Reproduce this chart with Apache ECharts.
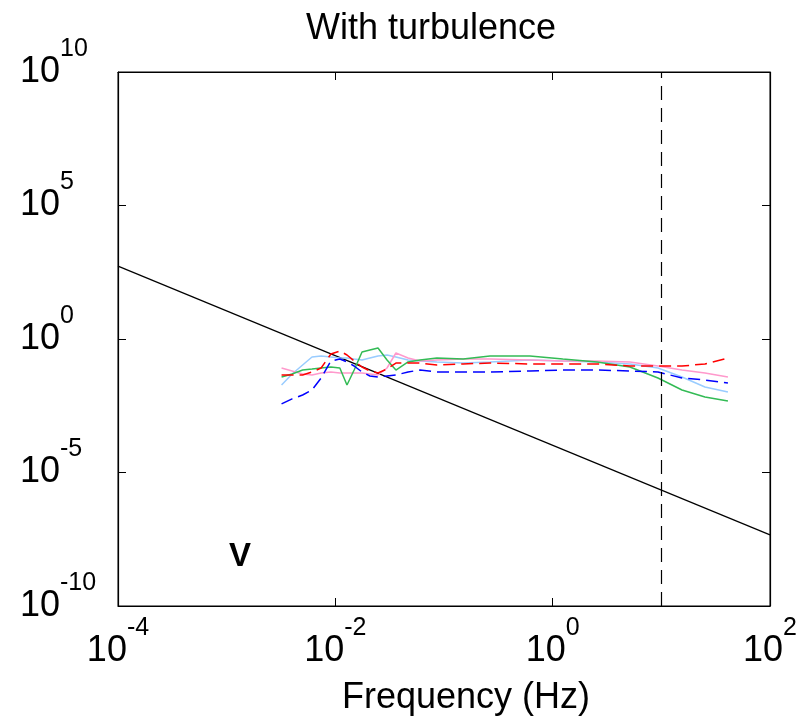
<!DOCTYPE html>
<html>
<head>
<meta charset="utf-8">
<script src="https://cdn.jsdelivr.net/npm/echarts@6/dist/echarts.min.js"></script>
<style>
  html, body { margin: 0; padding: 0; background: #fff; }
  #chart { width: 807px; height: 725px; }
</style>
</head>
<body>
<div id="chart"></div>
<script>
// frequencies (Hz) for the measured spectra
var freq = [0.0032, 0.004, 0.005, 0.0061, 0.0074, 0.0091, 0.011, 0.0128, 0.0149, 0.0176, 0.0208, 0.0247, 0.0299,
            0.0361, 0.0467, 0.0601, 0.0861, 0.15, 0.265, 0.618, 1.24, 2.56, 5.14, 9.31, 15.5, 25.2, 41];
// spectra values
var redVals   = [0.0448, 0.0448, 0.0448, 0.0581, 0.082, 0.274, 0.355, 0.252, 0.15, 0.0894, 0.0633, 0.0533, 0.0752,
                 0.126, 0.126, 0.126, 0.106, 0.116, 0.126, 0.116, 0.116, 0.116, 0.0974, 0.0974, 0.0974, 0.116, 0.194];
var blueVals  = [0.0037, 0.0057, 0.008, 0.0123, 0.0346, 0.15, 0.178, 0.138, 0.0974, 0.0581, 0.0411, 0.0377, 0.0411,
                 0.0448, 0.0581, 0.069, 0.0581, 0.0581, 0.0581, 0.0633, 0.069, 0.069, 0.0633, 0.0581, 0.0346, 0.0291, 0.0225];
var greenVals = [0.0377, 0.0489, 0.069, 0.0752, 0.082, 0.0894, 0.082, 0.0189, 0.069, 0.326, 0.387, 0.46, 0.163,
                 0.069, 0.138, 0.163, 0.194, 0.178, 0.231, 0.231, 0.178, 0.138, 0.0894, 0.0346, 0.0123, 0.0067, 0.0048];
var cyanVals  = [0.0189, 0.0489, 0.106, 0.212, 0.231, 0.212, 0.194, 0.194, 0.178, 0.163, 0.194, 0.231, 0.252,
                 0.212, 0.163, 0.15, 0.138, 0.126, 0.138, 0.163, 0.15, 0.138, 0.116, 0.082, 0.0377, 0.0159, 0.0104];
var pinkVals  = [0.082, 0.0633, 0.0489, 0.0448, 0.0533, 0.0581, 0.0533, 0.0533, 0.0533, 0.0533, 0.0489, 0.0448, 0.082,
                 0.299, 0.194, 0.15, 0.163, 0.178, 0.178, 0.163, 0.15, 0.15, 0.138, 0.0974, 0.069, 0.0533, 0.0377];
// -5/3 reference line
var refFreq = [1e-4, 1e2];
var refVals = [537, 4.6e-8];
// cutoff frequency (dashed vertical)
var cutoffFreq = 10;

var FONT = "'Liberation Sans', Arial, sans-serif";

function pairs(xs, ys) {
  var out = [];
  for (var i = 0; i < xs.length; i++) out.push([xs[i], ys[i]]);
  return out;
}

function powLabel(v) {
  var e = Math.round(Math.log(v) / Math.LN10);
  return '{b|10}{s|' + e + '}';
}

var labelRich = {
  b: { fontSize: 36, fontFamily: FONT, color: '#000', verticalAlign: 'middle' },
  s: { fontSize: 25, fontFamily: FONT, color: '#000', verticalAlign: 'middle', padding: [0, 0, 46, 0] }
};

var tickStyle = { show: true, inside: true, length: 8, lineStyle: { color: '#000', width: 1 } };
var lineStyle = { show: true, lineStyle: { color: '#000', width: 1.2 } };

var chart = echarts.init(document.getElementById('chart'));
var option = {
  backgroundColor: '#fff',
  animation: false,
  grid: { left: 118, right: 37, top: 72, bottom: 119, show: true, borderColor: '#000', borderWidth: 1 },
  xAxis: [
    {
      type: 'log', logBase: 10, min: 1e-4, max: 1e2, interval: 2,
      axisLine: lineStyle, axisTick: tickStyle, splitLine: { show: false }, minorTick: { show: false },
      axisLabel: { formatter: powLabel, rich: labelRich, margin: 10, showMinLabel: true, showMaxLabel: true }
    },
    {
      type: 'log', logBase: 10, min: 1e-4, max: 1e2, interval: 2, position: 'top',
      axisLine: lineStyle, axisTick: tickStyle, splitLine: { show: false }, axisLabel: { show: false }
    }
  ],
  yAxis: [
    {
      type: 'log', logBase: 10, min: 1e-10, max: 1e10, interval: 5,
      axisLine: lineStyle, axisTick: tickStyle, splitLine: { show: false }, minorTick: { show: false },
      axisLabel: { formatter: powLabel, rich: labelRich, align: 'left', margin: 98, showMinLabel: true, showMaxLabel: true }
    },
    {
      type: 'log', logBase: 10, min: 1e-10, max: 1e10, interval: 5, position: 'right',
      axisLine: lineStyle, axisTick: tickStyle, splitLine: { show: false }, axisLabel: { show: false }
    }
  ],
  graphic: [
    { type: 'text', style: { text: 'With turbulence', x: 431, y: 29, textAlign: 'center', textVerticalAlign: 'middle', font: '36px ' + FONT, fill: '#000' } },
    { type: 'text', style: { text: 'Frequency (Hz)', x: 466, y: 698, textAlign: 'center', textVerticalAlign: 'middle', font: '36px ' + FONT, fill: '#000' } },
    { type: 'text', style: { text: 'V', x: 240, y: 557, textAlign: 'center', textVerticalAlign: 'middle', font: 'bold 33px ' + FONT, fill: '#000' } }
  ],
  series: [
    {
      type: 'line', name: 'ref', data: pairs(refFreq, refVals), showSymbol: false, symbol: 'none',
      lineStyle: { color: '#000', width: 1.2 },
      markLine: {
        silent: true, symbol: 'none', label: { show: false },
        lineStyle: { color: '#000', width: 1.2, type: [14, 8] },
        data: [{ xAxis: cutoffFreq }]
      }
    },
    { type: 'line', name: 'cyan', data: pairs(freq, cyanVals), symbol: 'none', lineStyle: { color: '#99ccff', width: 1.5 } },
    { type: 'line', name: 'pink', data: pairs(freq, pinkVals), symbol: 'none', lineStyle: { color: '#ff99cc', width: 1.5 } },
    { type: 'line', name: 'green', data: pairs(freq, greenVals), symbol: 'none', lineStyle: { color: '#33bb55', width: 1.5 } },
    { type: 'line', name: 'red', data: pairs(freq, redVals), symbol: 'none', lineStyle: { color: '#ff0000', width: 1.5, type: [12, 6] } },
    { type: 'line', name: 'blue', data: pairs(freq, blueVals), symbol: 'none', lineStyle: { color: '#0000ff', width: 1.5, type: [12, 6] } }
  ]
};
chart.setOption(option);
</script>
</body>
</html>
